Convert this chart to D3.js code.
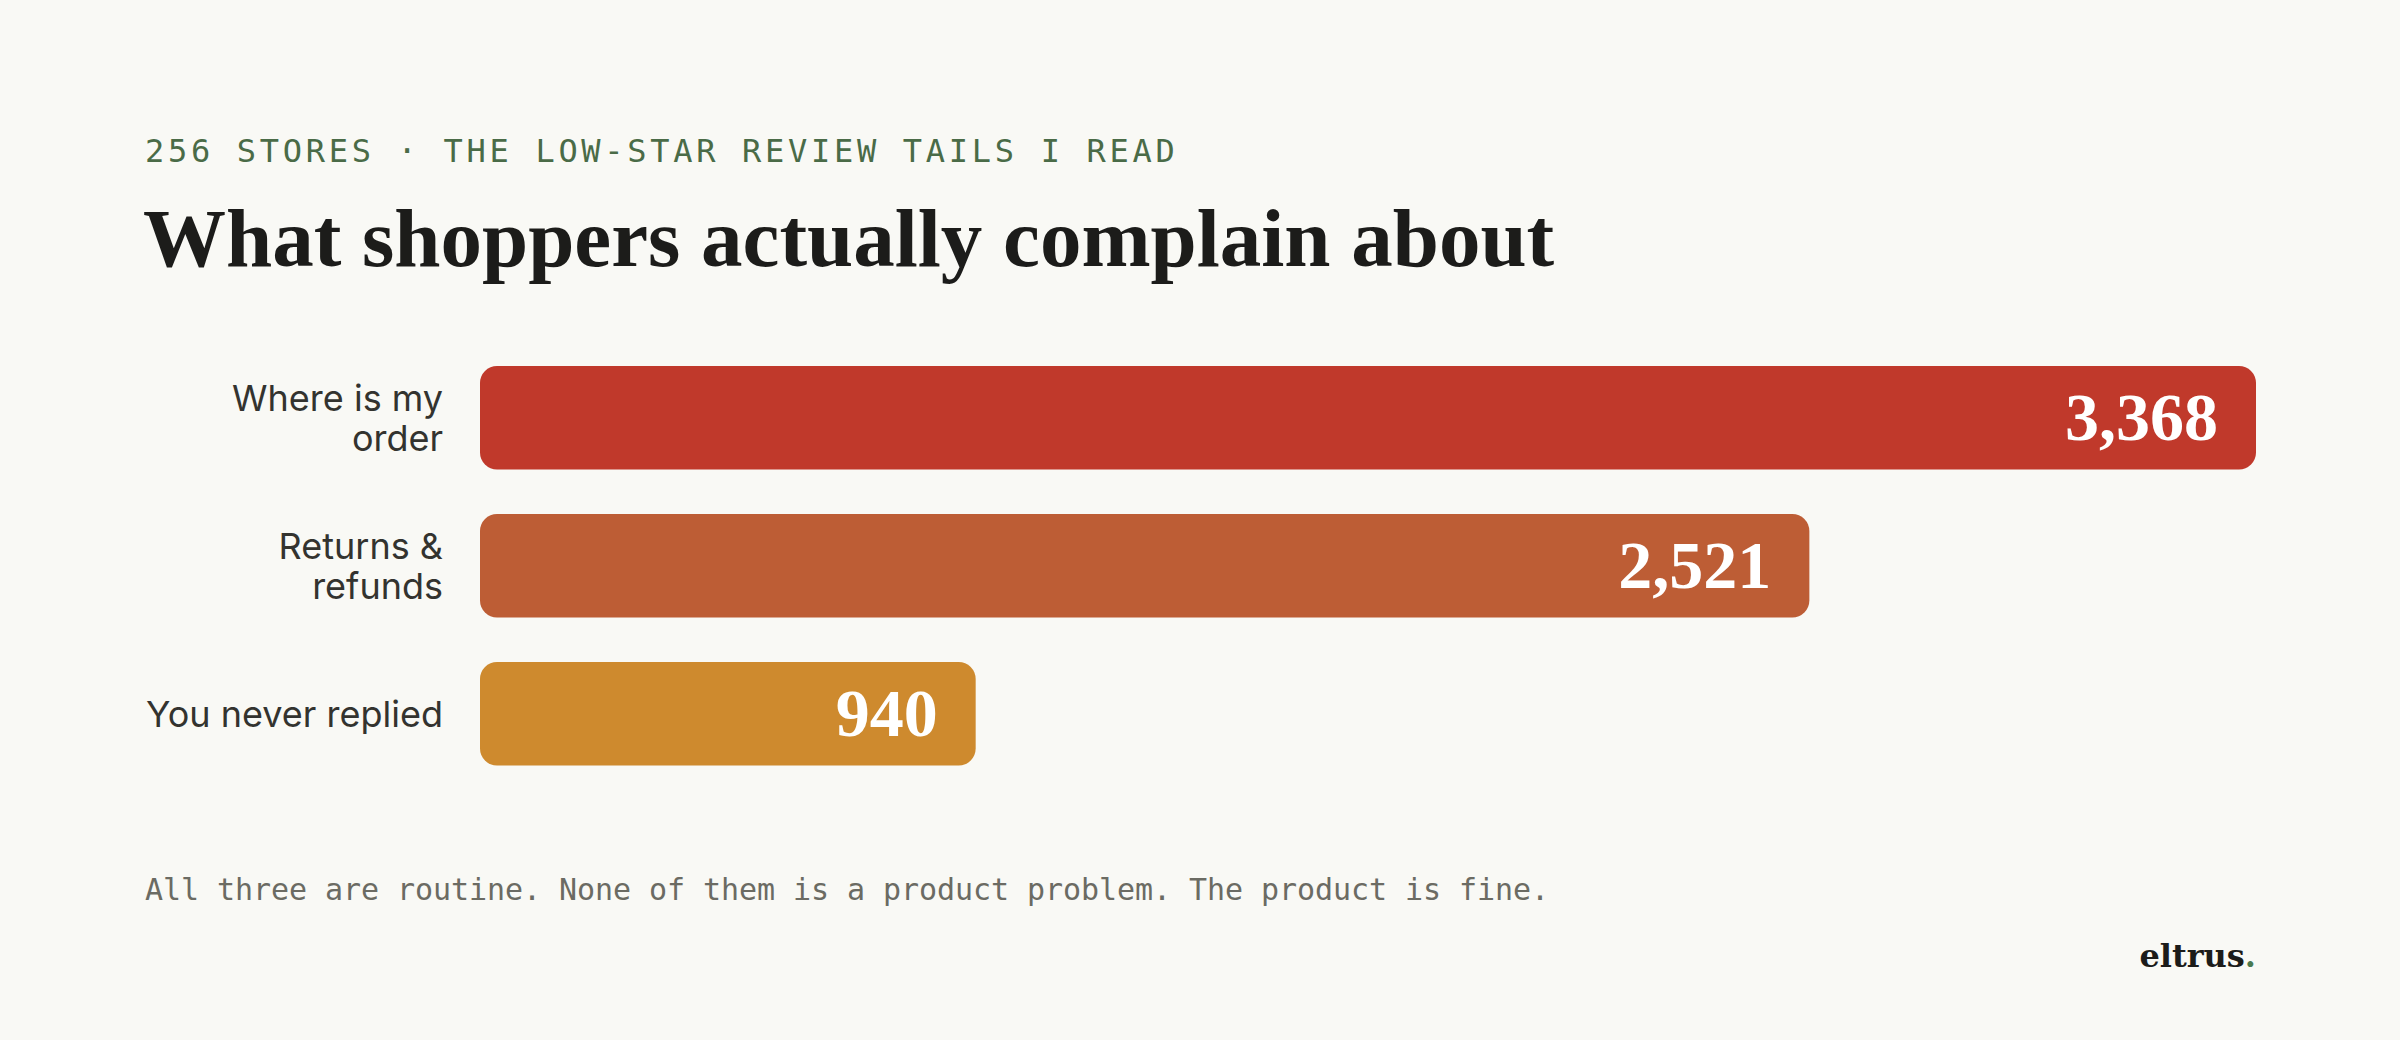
<!DOCTYPE html>
<html>
<head>
<meta charset="utf-8">
<script src="https://cdn.jsdelivr.net/npm/d3@7"></script>
<style>
  html, body { margin: 0; padding: 0; background: #F9F9F5; }
  svg { display: block; }
</style>
</head>
<body>
<svg id="chart" width="2400" height="1040"></svg>
<script>
const categories = ["Where is my order", "Returns & refunds", "You never replied"];
const labelLines = [["Where is my", "order"], ["Returns &", "refunds"], ["You never replied"]];
const values = [3368, 2521, 940];
const barColors = ["#C0392B", "#BD5D35", "#CE8A2E"];
const kicker = "256 STORES · THE LOW-STAR REVIEW TAILS I READ";
const title = "What shoppers actually complain about";
const footnote = "All three are routine. None of them is a product problem. The product is fine.";
const brand = "eltrus";

const svg = d3.select("#chart");
svg.append("rect").attr("width", 2400).attr("height", 1040).attr("fill", "#F9F9F5");

svg.append("text")
  .attr("x", 145).attr("y", 161.5)
  .attr("font-family", "'DejaVu Sans Mono', monospace")
  .attr("font-size", 32)
  .attr("letter-spacing", 3.7)
  .attr("fill", "#4A6B47")
  .text(kicker);

svg.append("text")
  .attr("x", 143).attr("y", 266)
  .attr("font-family", "'Liberation Serif', serif")
  .attr("font-weight", 700)
  .attr("font-size", 83)
  .attr("fill", "#1C1C1A")
  .text(title);

const x = d3.scaleLinear().domain([0, d3.max(values)]).range([480, 2256]);
const y = d3.scaleBand().domain(categories).range([343.8, 787.8]).paddingInner(0.3).paddingOuter(0.15);

const rows = svg.append("g").selectAll("g").data(categories).join("g");

rows.append("rect")
  .attr("x", x(0))
  .attr("y", d => y(d))
  .attr("width", (d, i) => x(values[i]) - x(0))
  .attr("height", y.bandwidth())
  .attr("rx", 17).attr("ry", 17)
  .attr("fill", (d, i) => barColors[i]);

rows.append("text")
  .attr("x", (d, i) => x(values[i]) - 38)
  .attr("y", d => y(d) + y.bandwidth() / 2 + 22)
  .attr("text-anchor", "end")
  .attr("font-family", "'Liberation Serif', serif")
  .attr("font-weight", 700)
  .attr("font-size", 68)
  .attr("fill", "#FFFFFF")
  .text((d, i) => d3.format(",")(values[i]));

rows.each(function(d, i) {
  const lines = labelLines[i];
  const lh = 40;
  const cy = y(d) + y.bandwidth() / 2;
  const first = cy + 13 - (lines.length - 1) * lh / 2;
  const t = d3.select(this).append("text")
    .attr("text-anchor", "end")
    .attr("font-family", "Inter, sans-serif")
    .attr("font-size", 36)
    .attr("fill", "#33332F");
  lines.forEach((ln, j) => {
    t.append("tspan").attr("x", 443).attr("y", first + j * lh).text(ln);
  });
});

svg.append("text")
  .attr("x", 145).attr("y", 900)
  .attr("font-family", "'DejaVu Sans Mono', monospace")
  .attr("font-size", 30)
  .attr("letter-spacing", -0.06)
  .attr("fill", "#6B6B63")
  .text(footnote);

const b = svg.append("text")
  .attr("x", 2256).attr("y", 967)
  .attr("text-anchor", "end")
  .attr("font-family", "'DejaVu Serif', serif")
  .attr("font-weight", 700)
  .attr("font-size", 32)
  .attr("fill", "#1C1C1A");
b.append("tspan").text(brand);
b.append("tspan").attr("fill", "#4A7A4F").text(".");
</script>
</body>
</html>
